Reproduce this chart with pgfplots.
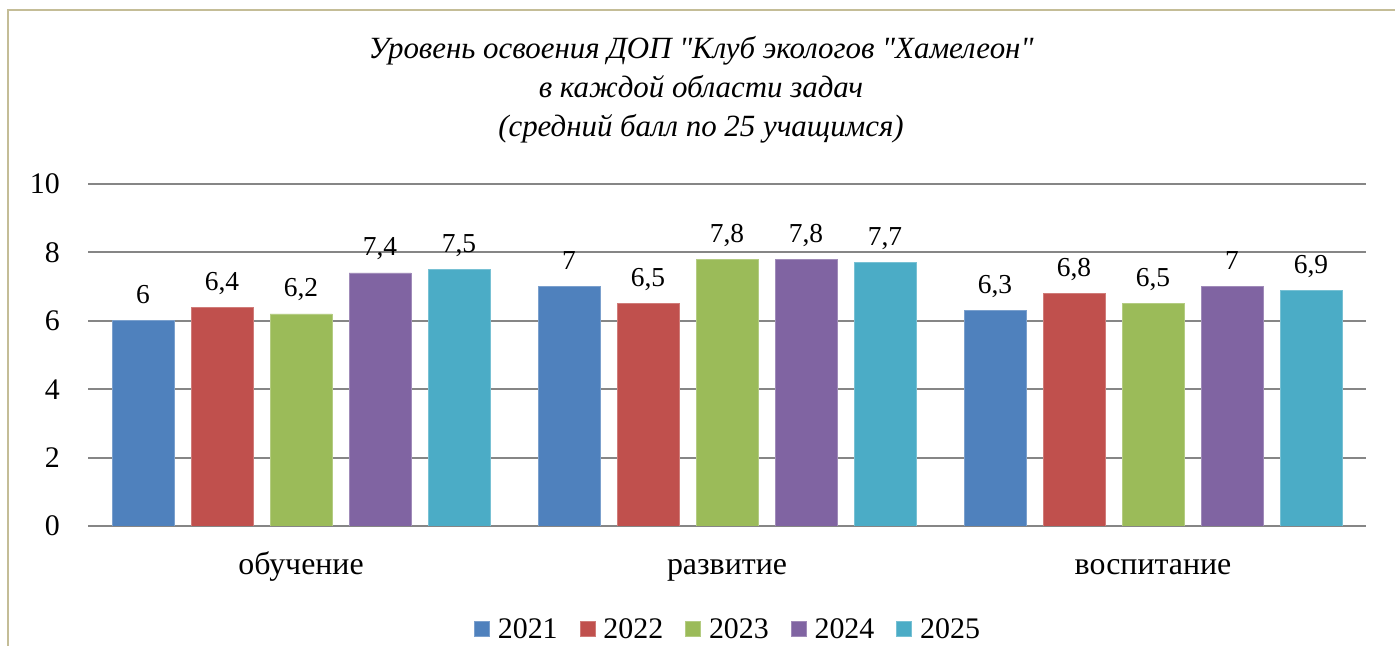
\documentclass[border=0pt]{standalone}
\usepackage{fontspec}
\setmainfont{Liberation Serif}
\newfontfamily\titlefont{Liberation Serif}
\usepackage{pgfplots}
\pgfplotsset{compat=1.18}

\definecolor{c21}{HTML}{4F81BD}
\definecolor{c22}{HTML}{C0504D}
\definecolor{c23}{HTML}{9BBB59}
\definecolor{c24}{HTML}{8064A2}
\definecolor{c25}{HTML}{4BACC6}
\definecolor{frame}{HTML}{C4BD97}
\definecolor{gridc}{HTML}{868686}

\begin{document}
\begin{tikzpicture}[x=1bp,y=1bp]
\useasboundingbox (0,0) rectangle (1395,646);
\draw[frame, line width=2bp] (8,0) -- (8,636) -- (1395,636);
\node[font=\titlefont\fontsize{31}{39}\selectfont\itshape, align=center] at (701,556)
  {Уровень освоения ДОП "Клуб экологов "Хамелеон"\\
   в каждой области задач\\
   (средний балл по 25 учащимся)};

\begin{axis}[
  at={(88bp,120bp)}, anchor=south west,
  scale only axis, width=1278bp, height=342bp,
  ybar=17bp, bar width=62bp,
  xmin=-0.5, xmax=2.5,
  ymin=0, ymax=10, enlarge y limits=false,
  xtick={0,1,2},
  xticklabels={обучение,развитие,воспитание},
  ytick={0,2,4,6,8,10},
  axis line style={draw=none},
  major tick length=0pt,
  ymajorgrids,
  major grid style={draw=gridc, line width=2bp},
  /pgf/number format/assume math mode=true,
  /pgf/number format/.cd, use comma, fixed, precision=1, /pgfplots/.cd,
  yticklabel style={font=\fontsize{30}{36}\selectfont, anchor=east, inner sep=0pt, xshift=-28bp},
  xticklabel style={font=\fontsize{32}{38}\selectfont, anchor=base, inner sep=0pt, yshift=-49bp},
  nodes near coords,
  every node near coord/.append style={font=\fontsize{27.5}{32}\selectfont, anchor=base, inner sep=0pt, yshift=17bp, text=black},
  legend style={at={(axis description cs:0.5,-0.301)}, anchor=center, draw=none, fill=none,
    font=\fontsize{30}{36}\selectfont, legend columns=-1, nodes={inner sep=0pt},
    /tikz/every odd column/.append style={column sep=8bp},
    /tikz/every even column/.append style={column sep=22bp}},
  legend image code/.code={\fill[#1] (0bp,-7.5bp) rectangle (15bp,7.5bp);},
]
\addplot[fill=c21, draw=c21!75!white, line width=0.8bp] coordinates {(0,6) (1,7) (2,6.3)};
\addplot[fill=c22, draw=c22!75!white, line width=0.8bp] coordinates {(0,6.4) (1,6.5) (2,6.8)};
\addplot[fill=c23, draw=c23!75!white, line width=0.8bp] coordinates {(0,6.2) (1,7.8) (2,6.5)};
\addplot[fill=c24, draw=c24!75!white, line width=0.8bp] coordinates {(0,7.4) (1,7.8) (2,7)};
\addplot[fill=c25, draw=c25!75!white, line width=0.8bp] coordinates {(0,7.5) (1,7.7) (2,6.9)};
\legend{2021,2022,2023,2024,2025}
\end{axis}
\end{tikzpicture}
\end{document}
